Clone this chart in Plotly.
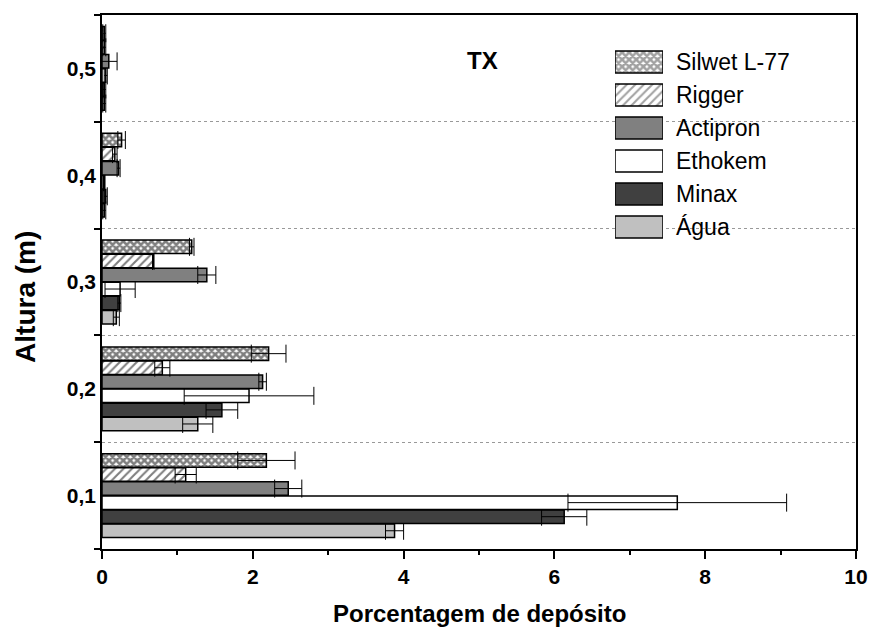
import plotly.graph_objects as go

categories = ['0,1', '0,2', '0,3', '0,4', '0,5']
series_names = ['Silwet L-77', 'Rigger', 'Actipron', 'Ethokem', 'Minax', 'Água']

silwet = [2.18, 2.21, 1.19, 0.26, 0.03]
silwet_err = [0.38, 0.23, 0.03, 0.05, 0.02]
rigger = [1.11, 0.80, 0.68, 0.17, 0.03]
rigger_err = [0.14, 0.10, 0.01, 0.03, 0.02]
actipron = [2.47, 2.13, 1.39, 0.22, 0.09]
actipron_err = [0.18, 0.05, 0.12, 0.02, 0.11]
ethokem = [7.63, 1.95, 0.24, 0.03, 0.05]
ethokem_err = [1.45, 0.86, 0.20, 0.01, 0.02]
minax = [6.13, 1.59, 0.23, 0.05, 0.03]
minax_err = [0.30, 0.21, 0.02, 0.02, 0.02]
agua = [3.88, 1.27, 0.19, 0.03, 0.03]
agua_err = [0.12, 0.20, 0.04, 0.02, 0.02]

values = [silwet, rigger, actipron, ethokem, minax, agua]
errors = [silwet_err, rigger_err, actipron_err, ethokem_err, minax_err, agua_err]

fill_colors = ['white', 'white', '#808080', '#ffffff', '#404040', '#c0c0c0']
pattern_shapes = ['x', '/', '', '', '', '']
pattern_sizes = [5, 6, 8, 8, 8, 8]
pattern_solid = [0.75, 0.35, 0.3, 0.3, 0.3, 0.3]

FONT = 'Liberation Sans, Arial, sans-serif'

fig = go.Figure()
# add in reverse so the first series sits on top of each group
for i in reversed(range(len(series_names))):
    fig.add_trace(go.Bar(
        name=series_names[i], y=categories, x=values[i], orientation='h',
        marker=dict(color=fill_colors[i], line=dict(color='black', width=1.5),
                    pattern=dict(shape=pattern_shapes[i], size=pattern_sizes[i],
                                 solidity=pattern_solid[i], fgcolor='black',
                                 bgcolor=fill_colors[i])),
        error_x=dict(type='data', array=errors[i], visible=True,
                     color='black', thickness=1, width=9),
        showlegend=False,
    ))

# legend swatches drawn as bars on an auxiliary axis pair
legend_x = [1] * len(series_names)
fig.add_trace(go.Bar(
    y=series_names, x=legend_x, orientation='h', xaxis='x2', yaxis='y2',
    width=0.67, showlegend=False, hoverinfo='skip',
    marker=dict(color=fill_colors, line=dict(color='black', width=1.5),
                pattern=dict(shape=pattern_shapes, size=pattern_sizes,
                             solidity=pattern_solid, fgcolor='black',
                             bgcolor=fill_colors)),
))

fig.update_layout(
    width=871, height=633,
    margin=dict(l=102, r=15, t=15, b=84, autoexpand=False),
    paper_bgcolor='white', plot_bgcolor='white',
    barmode='group', bargap=0.21, bargroupgap=0.04,
    font=dict(family=FONT, color='black'),
    showlegend=False,
    xaxis=dict(
        range=[0, 10], dtick=2, tick0=0, automargin=False,
        ticks='outside', ticklen=8, tickwidth=1.5, tickcolor='black',
        minor=dict(dtick=1, ticks='outside', ticklen=4, tickwidth=1.5, tickcolor='black'),
        showline=True, linecolor='black', linewidth=1.5, mirror=True,
        showgrid=False, zeroline=False,
        tickfont=dict(size=21, weight='bold', family=FONT),
    ),
    yaxis=dict(
        type='category', categoryorder='array', categoryarray=categories,
        automargin=False,
        tickson='boundaries', ticks='outside', ticklen=6, tickwidth=1.5, tickcolor='black',
        showline=True, linecolor='black', linewidth=1.5, mirror=True,
        showgrid=True, gridcolor='#999999', griddash='dot', gridwidth=1,
        zeroline=False,
        tickfont=dict(size=21, weight='bold', family=FONT),
    ),
    xaxis2=dict(domain=[0.6804, 0.744], anchor='y2', range=[0, 1],
                visible=False, fixedrange=True),
    yaxis2=dict(domain=[0.572, 0.943], anchor='x2', type='category',
                categoryorder='array', categoryarray=list(reversed(series_names)),
                side='right', showgrid=False, showline=False, zeroline=False,
                ticks='', ticklabelstandoff=12,
                tickfont=dict(size=23, family=FONT), fixedrange=True),
    shapes=[dict(type='rect', xref='x', yref='paper', x0=6.62, x1=9.3,
                 y0=0.565, y1=0.955, fillcolor='white', line=dict(width=0),
                 layer='between')],
    annotations=[
        dict(text='<b>TX</b>', x=0.504, y=0.915, xref='paper', yref='paper',
             xanchor='center', yanchor='middle', showarrow=False,
             font=dict(size=24, family=FONT)),
        dict(text='<b>Altura (m)</b>', textangle=-90, x=-0.1008, y=0.472,
             xref='paper', yref='paper', xanchor='center', yanchor='middle',
             showarrow=False, font=dict(size=28, family=FONT)),
        dict(text='<b>Porcentagem de depósito</b>', x=0.5, y=-0.1199,
             xref='paper', yref='paper', xanchor='center', yanchor='middle',
             showarrow=False, font=dict(size=24, family=FONT)),
    ],
)

fig.write_html('out.html')
